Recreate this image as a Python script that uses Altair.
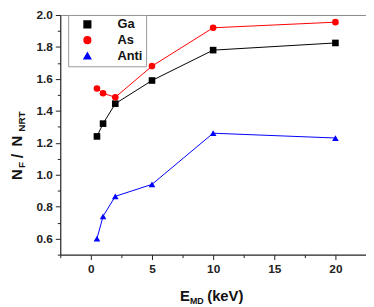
import altair as alt
import pandas as pd

energies = [0.5, 1, 2, 5, 10, 20]
ga = [1.24, 1.32, 1.445, 1.59, 1.78, 1.825]
as_ = [1.54, 1.51, 1.485, 1.68, 1.92, 1.955]
anti = [0.60, 0.74, 0.865, 0.94, 1.26, 1.23]
series = ["Ga", "As", "Anti"]
colors = ["#000000", "#ff0000", "#0000ff"]
shapes = ["square", "circle", "triangle-up"]
x_major = [0, 5, 10, 15, 20]
x_minor = [-2.5, 2.5, 7.5, 12.5, 17.5, 22.5]
y_major = [0.6, 0.8, 1.0, 1.2, 1.4, 1.6, 1.8, 2.0]
y_minor = [0.5, 0.7, 0.9, 1.1, 1.3, 1.5, 1.7, 1.9]

rows = []
for name, vals in zip(series, [ga, as_, anti]):
    for e, v in zip(energies, vals):
        rows.append({"E": e, "R": v, "S": name})
df = pd.DataFrame(rows)

FONT = "Liberation Sans"
xs = alt.Scale(domain=[-2.5, 22.5], nice=False, zero=False)
ys = alt.Scale(domain=[0.5, 2.0], nice=False, zero=False)
cs = alt.Scale(domain=series, range=colors)
ss = alt.Scale(domain=series, range=shapes)

ax_common = dict(grid=False, title=None, labelFont=FONT, labelFontSize=12,
                 labelFontWeight="bold", labelColor="#222", domainColor="#222",
                 tickColor="#222", tickWidth=1, domainWidth=1)

x_major_ax = alt.Axis(values=x_major, tickSize=5, labelPadding=4, orient="bottom",
                      format="d", **ax_common)
y_major_ax = alt.Axis(values=y_major, tickSize=5, labelPadding=3, orient="left",
                      format=".1f", **ax_common)
x_minor_ax = alt.Axis(values=x_minor, tickSize=3, labels=False, domain=False,
                      orient="bottom", grid=False, title=None, tickColor="#222")
y_minor_ax = alt.Axis(values=y_minor, tickSize=3, labels=False, domain=False,
                      orient="left", grid=False, title=None, tickColor="#222")

base = alt.Chart(df)

lines = base.mark_line(strokeWidth=1).encode(
    x=alt.X("E:Q", scale=xs, axis=x_minor_ax),
    y=alt.Y("R:Q", scale=ys, axis=y_minor_ax),
    stroke=alt.Stroke("S:N", scale=cs, legend=None),
    detail="S:N",
)

leg = alt.Legend(
    title=None, orient="none", legendX=8, legendY=0, strokeColor="#999",
    padding=3, labelFont=FONT, labelFontSize=13, labelFontWeight="bold",
    labelColor="#111", symbolSize=45, symbolOffset=10, labelOffset=24,
    rowPadding=2)

points = base.mark_point(filled=True, size=45, opacity=1).encode(
    x=alt.X("E:Q", scale=xs, axis=x_major_ax),
    y=alt.Y("R:Q", scale=ys, axis=y_major_ax),
    color=alt.Color("S:N", scale=cs, legend=leg),
    shape=alt.Shape("S:N", scale=ss, legend=leg),
)

dummy = alt.Chart(pd.DataFrame({"a": [0]}))


def txt(t, x, y, size, angle=0, align="left", baseline="alphabetic"):
    kw = dict(text=t, font=FONT, fontSize=size, fontWeight="bold", color="#111",
              align=align, baseline=baseline)
    if angle:
        kw["angle"] = angle
    return dummy.mark_text(**kw).encode(x=alt.value(x), y=alt.value(y))

titles = [
    # x title
    txt("E", 121.5, 289.5, 15),
    txt("MD", 131.5, 293, 9),
    txt("(keV)", 149, 289.5, 15),
    # y title (rotated)
    txt("N", -44, 162, 15, angle=270, align="center", baseline="middle"),
    txt("F", -38.5, 152, 10, angle=270, align="center", baseline="middle"),
    txt("/", -43, 143, 16, angle=270, align="center", baseline="middle"),
    txt("N", -44, 128, 15, angle=270, align="center", baseline="middle"),
    txt("NRT", -38.5, 108, 10, angle=270, align="center", baseline="middle"),
]

chart = alt.layer(points, lines, *titles).resolve_scale(
    x="independent", y="independent"
).resolve_axis(
    x="independent", y="independent"
).properties(
    width=310, height=243,
    padding={"left": 53, "top": 5, "right": 0, "bottom": 51},
    autosize=alt.AutoSizeParams(type="none"),
).configure_view(stroke="#888", strokeWidth=1)

chart.save("out.html", embed_options={"renderer": "svg", "actions": False})
